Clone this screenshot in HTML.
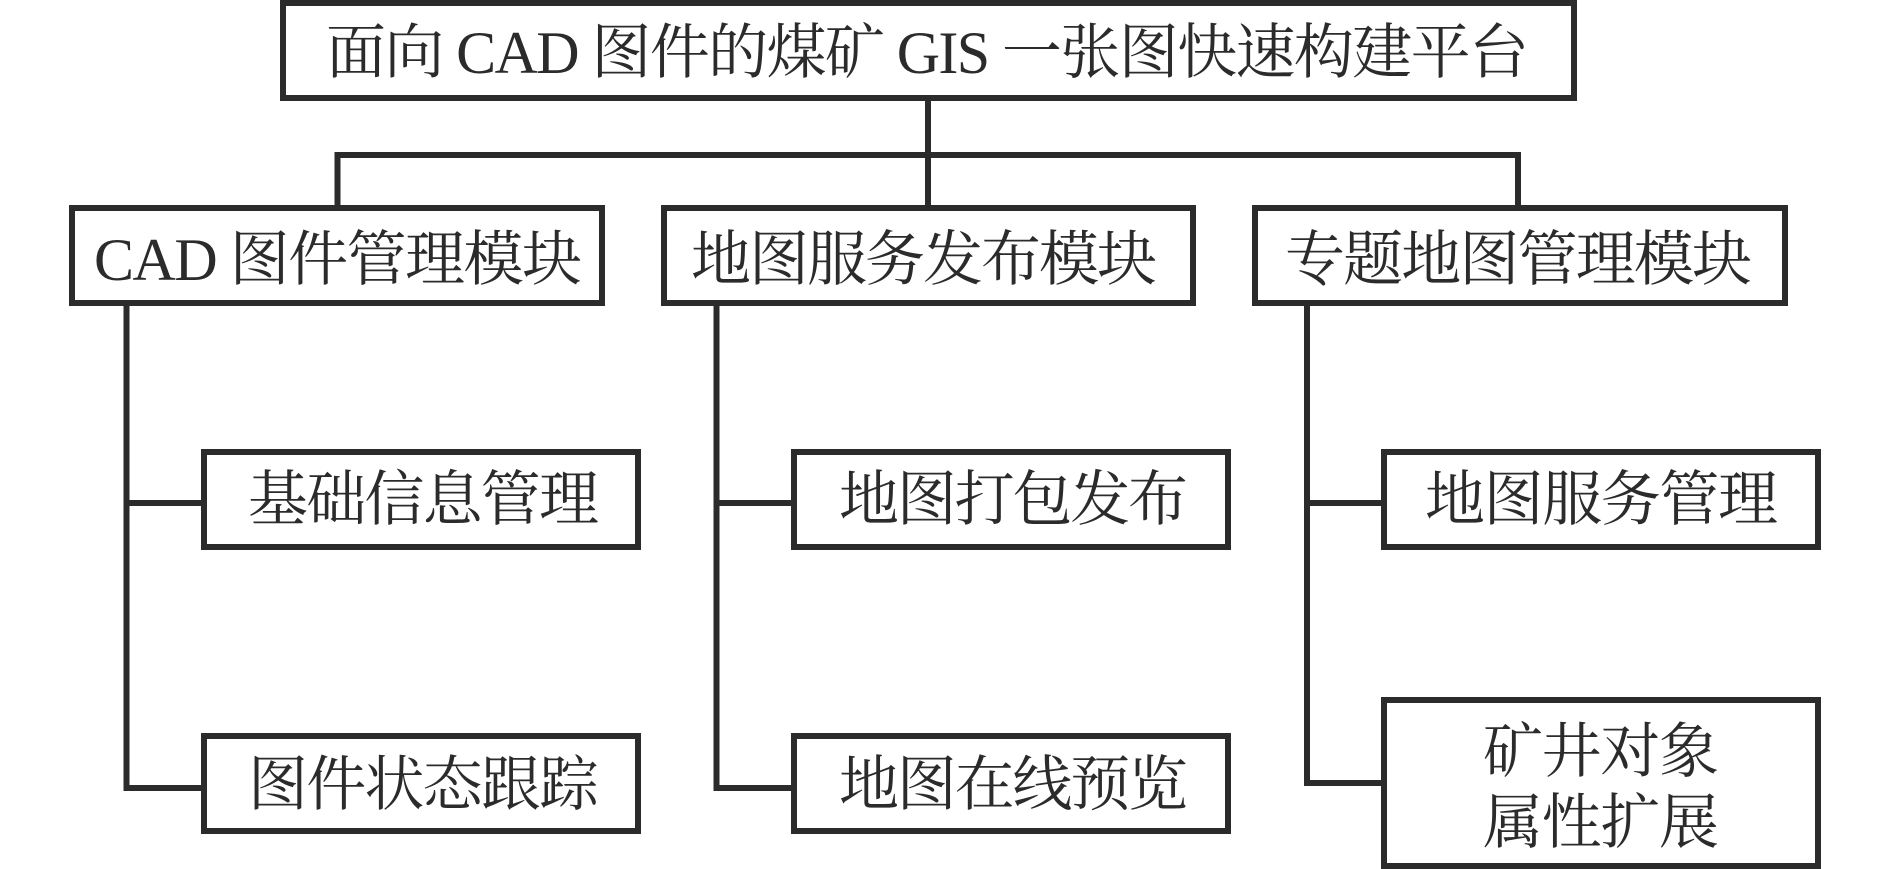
<!DOCTYPE html>
<html lang="zh-CN">
<head>
<meta charset="utf-8">
<title>面向 CAD 图件的煤矿 GIS 一张图快速构建平台</title>
<style>
html,body{margin:0;padding:0;background:#fff;width:1890px;height:869px;overflow:hidden}
svg{display:block}
text{font-family:"Liberation Serif","Noto Serif CJK SC",serif;font-size:60px;fill:#2b2b2b}
</style>
</head>
<body>
<svg width="1890" height="869" viewBox="0 0 1890 869" xmlns="http://www.w3.org/2000/svg">
<g fill="none" stroke="#2b2b2b" stroke-width="6">
<rect x="283" y="3" width="1291" height="95"/>
<rect x="72" y="208" width="530" height="95"/>
<rect x="664" y="208" width="529" height="95"/>
<rect x="1255" y="208" width="530" height="95"/>
<rect x="204" y="452" width="434" height="95"/>
<rect x="794" y="452" width="434" height="95"/>
<rect x="1384" y="452" width="434" height="95"/>
<rect x="204" y="736" width="434" height="95"/>
<rect x="794" y="736" width="434" height="95"/>
<rect x="1384" y="700" width="434" height="166"/>
<path d="M928 101V206"/>
<path d="M337.500 206V155H1518V206"/>
<path d="M126.500 306V788H201M126.500 503H201"/>
<path d="M716.500 306V788H791M716.500 503H791"/>
<path d="M1307 306V783H1381M1307 503H1381"/>
</g>
<text x="326" y="73" textLength="1203" lengthAdjust="spacing">面向 CAD 图件的煤矿 GIS 一张图快速构建平台</text>
<text x="94" y="280" textLength="488" lengthAdjust="spacing">CAD 图件管理模块</text>
<text x="691" y="280" textLength="466" lengthAdjust="spacing">地图服务发布模块</text>
<text x="1285" y="280" textLength="467" lengthAdjust="spacing">专题地图管理模块</text>
<text x="248" y="520" textLength="351" lengthAdjust="spacing">基础信息管理</text>
<text x="839" y="520" textLength="349" lengthAdjust="spacing">地图打包发布</text>
<text x="1425" y="520" textLength="353" lengthAdjust="spacing">地图服务管理</text>
<text x="248" y="805" textLength="351" lengthAdjust="spacing">图件状态跟踪</text>
<text x="839" y="805" textLength="349" lengthAdjust="spacing">地图在线预览</text>
<text x="1483" y="772" textLength="236" lengthAdjust="spacing">矿井对象</text>
<text x="1483" y="843" textLength="236" lengthAdjust="spacing">属性扩展</text>
</svg>
</body>
</html>
